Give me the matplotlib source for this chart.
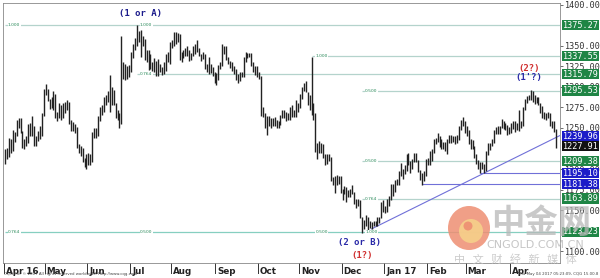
import matplotlib
matplotlib.use("Agg")
import matplotlib.pyplot as plt
from matplotlib.patches import Ellipse
import numpy as np

# Daily gold bars, Apr 2016 .. May 4 2017 (one entry per business day)
highs = [
    1225, 1226, 1238, 1236, 1248, 1245, 1260, 1262, 1262, 1246, 1237, 1240, 1255, 1256, 1265, 1252, 1240, 1246, 1252, 1268, 1297,
    1304, 1297, 1285, 1288, 1295, 1292, 1270, 1280, 1278, 1280, 1282, 1284, 1282, 1260, 1257, 1255, 1251, 1230, 1228, 1226, 1214, 1218,
    1220, 1218, 1245, 1250, 1250, 1265, 1275, 1278, 1288, 1290, 1295, 1315, 1300, 1296, 1280, 1272, 1268, 1362, 1330, 1328, 1325, 1327,
    1343, 1352, 1360, 1375, 1368, 1370, 1362, 1358, 1345, 1345, 1340, 1330, 1335, 1332, 1334, 1328, 1324, 1330, 1340, 1343, 1355,
    1357, 1367, 1367, 1366, 1365, 1343, 1345, 1348, 1350, 1345, 1342, 1350, 1352, 1357, 1348, 1340, 1343, 1340, 1328, 1337, 1328, 1324, 1318,
    1317, 1327, 1330, 1352, 1350, 1350, 1337, 1332, 1330, 1325, 1322, 1316, 1318, 1318, 1336, 1343, 1342, 1342, 1342, 1330, 1326, 1326,
    1318, 1313, 1275, 1268, 1265, 1265, 1262, 1262, 1264, 1260, 1258, 1266, 1272, 1272, 1270, 1268, 1276, 1278, 1272, 1284, 1280,
    1292, 1300, 1305, 1307, 1294, 1290, 1337, 1280, 1268, 1232, 1234, 1232, 1230, 1218, 1218, 1218, 1215, 1190, 1192, 1193, 1192, 1192,
    1176, 1179, 1178, 1175, 1176, 1180, 1172, 1163, 1164, 1162, 1142, 1138, 1144, 1141, 1136, 1135, 1136, 1137, 1142, 1142, 1160, 1162,
    1155, 1163, 1167, 1182, 1182, 1186, 1188, 1198, 1207, 1200, 1205, 1218, 1220, 1210, 1212, 1220, 1220, 1211, 1199, 1195, 1198, 1212,
    1213, 1222, 1225, 1236, 1238, 1244, 1240, 1236, 1233, 1233, 1236, 1242, 1242, 1240, 1240, 1242, 1252, 1260, 1263, 1258,
    1252, 1248, 1236, 1235, 1228, 1218, 1211, 1209, 1208, 1206, 1222, 1232, 1232, 1236, 1247, 1251, 1252, 1253, 1261, 1258, 1256, 1254, 1251,
    1256, 1258, 1258, 1256, 1272, 1258, 1275, 1285, 1289, 1290, 1296, 1295, 1290, 1288, 1288, 1280, 1277, 1270, 1268, 1270,
    1268, 1258, 1258, 1249,
]
lows = [
    1206, 1212, 1215, 1220, 1222, 1233, 1240, 1250, 1244, 1226, 1225, 1228, 1232, 1240, 1240, 1228, 1228, 1234, 1236, 1240, 1265,
    1290, 1283, 1273, 1274, 1272, 1262, 1258, 1262, 1260, 1262, 1268, 1272, 1255, 1246, 1246, 1244, 1226, 1220, 1216, 1208, 1202, 1200,
    1205, 1205, 1208, 1238, 1238, 1240, 1258, 1266, 1270, 1278, 1282, 1270, 1278, 1278, 1262, 1260, 1250, 1255, 1310, 1308, 1310, 1312,
    1318, 1335, 1345, 1350, 1355, 1337, 1350, 1333, 1330, 1321, 1322, 1320, 1318, 1314, 1313, 1318, 1315, 1316, 1319, 1330, 1328,
    1347, 1350, 1352, 1355, 1333, 1330, 1335, 1338, 1338, 1332, 1333, 1338, 1340, 1343, 1338, 1332, 1334, 1322, 1318, 1316, 1317, 1313, 1305,
    1302, 1308, 1322, 1325, 1340, 1333, 1328, 1323, 1320, 1316, 1308, 1305, 1307, 1312, 1312, 1330, 1335, 1336, 1325, 1318, 1315, 1312,
    1310, 1265, 1263, 1250, 1241, 1253, 1250, 1252, 1253, 1250, 1250, 1254, 1262, 1262, 1259, 1260, 1260, 1264, 1263, 1264, 1270,
    1274, 1285, 1295, 1294, 1278, 1272, 1266, 1260, 1221, 1212, 1220, 1220, 1213, 1205, 1206, 1210, 1185, 1180, 1171, 1180, 1182, 1171,
    1162, 1170, 1160, 1166, 1166, 1169, 1157, 1152, 1155, 1140, 1122, 1127, 1130, 1124, 1128, 1127, 1130, 1130, 1130, 1134, 1140, 1148,
    1146, 1147, 1155, 1162, 1167, 1172, 1180, 1180, 1192, 1188, 1194, 1198, 1205, 1195, 1200, 1208, 1208, 1196, 1186, 1180, 1185, 1192,
    1205, 1205, 1210, 1220, 1230, 1233, 1227, 1225, 1224, 1222, 1218, 1232, 1232, 1233, 1230, 1232, 1235, 1248, 1252, 1244,
    1240, 1230, 1224, 1224, 1213, 1206, 1200, 1195, 1200, 1195, 1198, 1217, 1223, 1228, 1232, 1243, 1243, 1243, 1250, 1249, 1247, 1242, 1243,
    1244, 1249, 1245, 1247, 1246, 1250, 1252, 1272, 1281, 1284, 1284, 1282, 1279, 1280, 1278, 1268, 1262, 1261, 1260, 1262,
    1253, 1250, 1245, 1226,
]

month_labels = ["Apr 16", "May", "Jun", "Jul", "Aug", "Sep", "Oct", "Nov", "Dec",
                "Jan 17", "Feb", "Mar", "Apr"]
month_days = [21, 22, 22, 21, 23, 22, 21, 22, 22, 22, 20, 23, 20, 4]

# price levels drawn on the chart
fib_levels = [1375.27, 1337.55, 1315.79, 1295.53, 1209.38, 1163.89, 1123.23]
fib_starts = [0, 158, 68, 184, 184, 184, 0]
blue_levels = [1195.10, 1181.38]
blue_starts = [245, 215]
trend_level = 1239.96
last_price = 1227.91
scale_ticks = [1100, 1150, 1175, 1200, 1250, 1275, 1300, 1325, 1350, 1400]

fig = plt.figure(figsize=(6, 2.78), dpi=100)
ax = fig.add_axes([3 / 600, 15 / 278, 557 / 600, 260 / 278])
ax.set_xlim(-1.03, 286.1)
ax.set_ylim(1085.4, 1402.4)

x = np.arange(len(highs))
ax.vlines(x, lows, highs, color="#222222", linewidth=1.0, zorder=3)

# fib / retracement lines
for lvl, s in zip(fib_levels, fib_starts):
    c = "#86cfc0" if lvl == 1123.23 else "#b4d3cc"
    ax.hlines(lvl, s, 286.1, color=c, linewidth=0.9, zorder=2)
for lvl, s in zip(blue_levels, blue_starts):
    ax.hlines(lvl, s, 286.1, color="#7070d8", linewidth=0.8, zorder=2)

# trendline through Dec and Mar lows
i0, i1 = 189, 247
slope = (lows[i1] - lows[i0]) / (i1 - i0)
ax.plot([i0, 286.1], [lows[i0], lows[i0] + slope * (286.1 - i0)],
        color="#7070d8", linewidth=0.8, zorder=2)

fib_txt = [(1.5, 1375.27, "1.000"), (69.6, 1375.27, "1.000"), (69.6, 1315.79, "0.764"),
           (160, 1337.55, "1.000"), (185.6, 1295.53, "0.500"), (185.6, 1209.38, "0.500"),
           (185.6, 1163.89, "0.764"), (185.6, 1123.23, "1.000"), (160, 1123.23, "0.500"),
           (1.5, 1123.23, "0.764"), (69.6, 1123.23, "0.500")]
for fx, fy, t in fib_txt:
    ax.text(fx, fy, t, fontsize=3.2, color="#2a8a5a", va="center", ha="left", zorder=4,
            bbox=dict(facecolor="white", edgecolor="none", pad=0.3))

lab_font = dict(family="DejaVu Sans Mono", fontsize=6.5, fontweight="bold", ha="center", va="center")
ax.text(70, 1389, "(1 or A)", color="#1c1c8c", **lab_font)
ax.text(183, 1110, "(2 or B)", color="#2a2aa8", **lab_font)
ax.text(184, 1095, "(1?)", color="#d03030", **lab_font)
ax.text(270, 1322, "(2?)", color="#d03030", **lab_font)
ax.text(270, 1311, "(1'?)", color="#2a2aa8", **lab_font)

# right price scale
ax.yaxis.tick_right()
ax.set_yticks(scale_ticks)
ax.set_yticklabels([f"{v:.2f}" for v in scale_ticks],
                   family="DejaVu Sans Mono", fontsize=6.1, color="#333333")
ax.tick_params(axis="y", length=2, width=0.6, color="#555555", pad=1)
ax.set_xticks([])

boxes = [(v, "#1f8545") for v in fib_levels] + [(v, "#1c1cc8") for v in blue_levels] + \
        [(trend_level, "#1c1cc8"), (last_price, "#111111")]
for v, c in boxes:
    ax.text(1.004, v, f"{v:.2f}", transform=ax.get_yaxis_transform(), ha="left", va="center",
            family="DejaVu Sans Mono", fontsize=6.1, color="white", zorder=6, clip_on=False,
            bbox=dict(facecolor=c, edgecolor="none", pad=0.5))

for sp in ["top", "left", "right", "bottom"]:
    ax.spines[sp].set_color("#888888")
    ax.spines[sp].set_linewidth(0.6)

# month labels under the axis
start = 0
for lab, n in zip(month_labels, month_days):
    ax.plot([start - 0.5, start - 0.5], [0, -0.04], transform=ax.get_xaxis_transform(),
            color="#333333", linewidth=0.7, clip_on=False)
    ax.text(start + 0.5, -0.015, lab, transform=ax.get_xaxis_transform(), ha="left", va="top",
            fontsize=6.3, fontweight="bold", color="#222222")
    start += n

fig.text(4 / 600, 4 / 278, "CQG Inc. © 2017 All rights reserved worldwide. http://www.cqg.com",
         fontsize=2.8, color="#444444", va="center")
fig.text(598 / 600, 4 / 278, "Thu May 04 2017 05:23:09, CQG 15.00.8",
         fontsize=2.8, color="#444444", va="center", ha="right")

# watermark
fig.patches.append(Ellipse((469 / 600, 50 / 278), 42 / 600, 44 / 278, transform=fig.transFigure,
                           facecolor="#ee8e72", edgecolor="none", alpha=0.85, zorder=7))
fig.patches.append(Ellipse((471 / 600, 47 / 278), 24 / 600, 24 / 278, transform=fig.transFigure,
                           facecolor="#f6d08a", edgecolor="none", alpha=0.9, zorder=7))
fig.patches.append(Ellipse((468 / 600, 52 / 278), 9 / 600, 9 / 278, transform=fig.transFigure,
                           facecolor="#ee8e72", edgecolor="none", alpha=0.9, zorder=7))
fig.text(541 / 600, 55 / 278, "中金网", family=["Noto Sans CJK SC", "DejaVu Sans"], fontsize=24,
         fontweight="bold", color="#b8b8b8", alpha=0.75, ha="center", va="center", zorder=8)
fig.text(535 / 600, 33 / 278, "CNGOLD.COM.CN", fontsize=8, color="#b8b8b8", alpha=0.8,
         ha="center", va="center", zorder=8)
fig.text(515 / 600, 19 / 278, "中   文   财   经   新   媒   体", family=["Noto Sans CJK SC", "DejaVu Sans"],
         fontsize=8, color="#c0c0c0", alpha=0.8, ha="center", va="center", zorder=8)

fig.savefig("out.png", dpi=100)
